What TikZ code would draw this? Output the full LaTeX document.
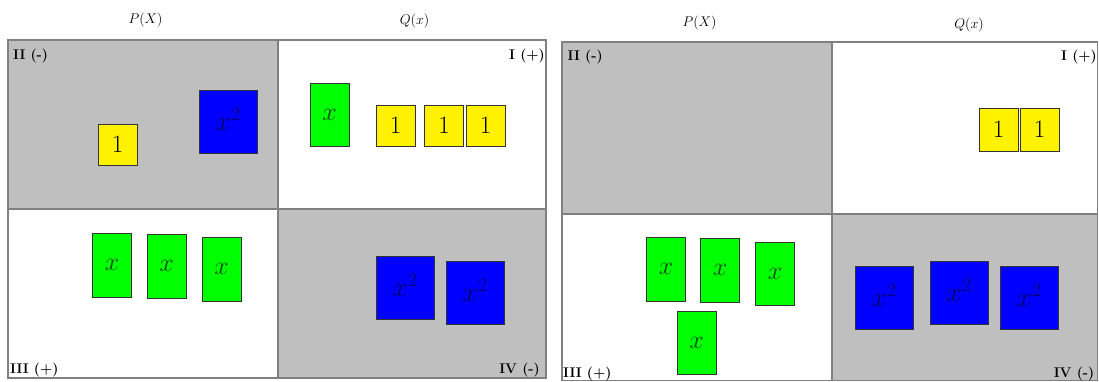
\RequirePackage{fix-cm}
\documentclass[tikz,border=0pt]{standalone}
\usepackage{amsmath}
\newcommand{\sq}{\raisebox{5pt}{$x^2$}}
\begin{document}
\begin{tikzpicture}[x=1pt,y=-1pt,
  quadgray/.style={fill=black!25},
  frameline/.style={draw=black!50,line width=1.1pt},
  tile/.style={draw=black!80,line width=0.9pt,inner sep=0pt,anchor=center},
  unit/.style={tile,fill=yellow,minimum width=39pt,minimum height=41pt,font=\fontsize{25}{27}\selectfont},
  xbar/.style={tile,fill=green,minimum width=39pt,minimum height=63pt,text=green!30!black,font=\fontsize{26}{28}\selectfont},
  xsq/.style={tile,fill=blue,minimum width=58pt,minimum height=63pt,text=blue!40!black,font=\fontsize{28}{30}\selectfont},
  quadlbl/.style={font=\bfseries\fontsize{14}{16}\selectfont,inner sep=0pt},
  headlbl/.style={font=\fontsize{14}{16}\selectfont,inner sep=0pt}
]
\useasboundingbox (0,0) rectangle (1099,381);
\fill[white] (0,0) rectangle (1099,381);

% ---------- Left panel ----------
\fill[quadgray] (8,40) rectangle (278,209);
\fill[quadgray] (278,209) rectangle (546,378);
\draw[frameline] (8,40) rectangle (546,378);
\draw[frameline] (278,40) -- (278,378);
\draw[frameline] (8,209) -- (546,209);

\node[headlbl] (lP) at (145.5,20) {$P(X)$};
\node[headlbl] (lQ) at (414.5,21) {$Q(x)$};
\node[quadlbl,anchor=west] (lII) at (13,56) {II (-)};
\node[quadlbl,anchor=east] (lI) at (545,56) {I (+)};
\node[quadlbl,anchor=west] (lIII) at (10,370) {III (+)};
\node[quadlbl,anchor=east] (lIV) at (540,370) {IV (-)};

\node[unit] (ly1) at (117.5,144.5) {1};
\node[xsq] (lb1) at (228,121.5) {\sq};
\node[xbar] (lg1) at (329.5,114.5) {$x$};
\node[unit] (ly2) at (395.5,125.5) {1};
\node[unit] (ly3) at (444,125.5) {1};
\node[unit] (ly4) at (485.5,125.5) {1};
\node[xbar,minimum height=64pt] (lg2) at (112,265) {$x$};
\node[xbar,minimum height=64pt] (lg3) at (166.5,266) {$x$};
\node[xbar,minimum height=64pt] (lg4) at (221.5,269) {$x$};
\node[xsq] (lb2) at (405,287.5) {\sq};
\node[xsq] (lb3) at (475,293) {\sq};

% ---------- Right panel ----------
\fill[quadgray] (562,42) rectangle (832,214);
\fill[quadgray] (832,214) rectangle (1097.5,380.5);
\draw[frameline] (562,42) rectangle (1097.5,380.5);
\draw[frameline] (832,42) -- (832,380.5);
\draw[frameline] (562,214) -- (1097.5,214);

\node[headlbl] (rP) at (699.5,22.5) {$P(X)$};
\node[headlbl] (rQ) at (969,25) {$Q(x)$};
\node[quadlbl,anchor=west] (rII) at (567.5,57.5) {II (-)};
\node[quadlbl,anchor=east] (rI) at (1097,57.5) {I (+)};
\node[quadlbl,anchor=west] (rIII) at (563,374) {III (+)};
\node[quadlbl,anchor=east] (rIV) at (1094.5,374) {IV (-)};

\node[unit,minimum height=43pt] (ry1) at (998.5,129.5) {1};
\node[unit,minimum height=43pt] (ry2) at (1039.5,129.5) {1};
\node[xbar,minimum height=64pt] (rg1) at (666,269) {$x$};
\node[xbar,minimum height=64pt] (rg2) at (720,270) {$x$};
\node[xbar] (rg3) at (775,273.5) {$x$};
\node[xbar] (rg4) at (696.5,342.5) {$x$};
\node[xsq] (rb1) at (884,297.5) {\sq};
\node[xsq] (rb2) at (959,292.5) {\sq};
\node[xsq] (rb3) at (1029,297.5) {\sq};
\end{tikzpicture}
\end{document}
